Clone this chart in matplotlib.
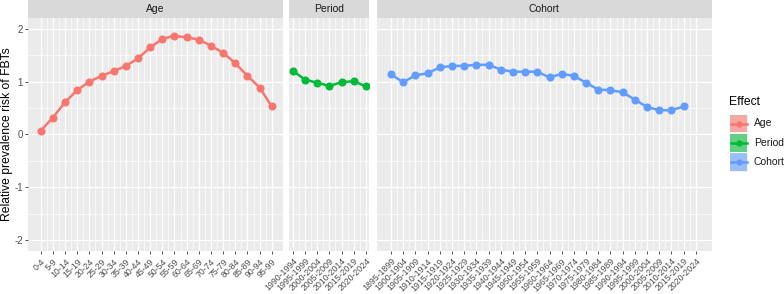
import numpy as np
import matplotlib
matplotlib.use("Agg")
import matplotlib.pyplot as plt
from matplotlib.patches import Rectangle
from matplotlib.lines import Line2D

plt.rcParams['font.family'] = ['Liberation Sans', 'DejaVu Sans']

# data
age_labels = ['0-4', '5-9', '10-14', '15-19', '20-24', '25-29', '30-34', '35-39', '40-44', '45-49',
              '50-54', '55-59', '60-64', '65-69', '70-74', '75-79', '80-84', '85-89', '90-94', '95-99']
age_vals = [0.07, 0.32, 0.61, 0.84, 1.00, 1.11, 1.20, 1.30, 1.44, 1.65,
            1.81, 1.87, 1.84, 1.80, 1.68, 1.55, 1.35, 1.11, 0.89, 0.53]

period_labels = ['1990-1994', '1995-1999', '2000-2004', '2005-2009', '2010-2014', '2015-2019', '2020-2024']
period_vals = [1.21, 1.04, 0.98, 0.92, 0.99, 1.01, 0.91]

cohort_labels = ['1895-1899', '1900-1904', '1905-1909', '1910-1914', '1915-1919', '1920-1924', '1925-1929',
                 '1930-1934', '1935-1939', '1940-1944', '1945-1949', '1950-1954', '1955-1959', '1960-1964',
                 '1965-1969', '1970-1974', '1975-1979', '1980-1984', '1985-1989', '1990-1994', '1995-1999',
                 '2000-2004', '2005-2009', '2010-2014', '2015-2019', '2020-2024']
cohort_vals = [1.14, 0.99, 1.12, 1.16, 1.27, 1.30, 1.30, 1.32, 1.32, 1.23, 1.19, 1.19, 1.19, 1.08,
               1.15, 1.11, 0.98, 0.85, 0.84, 0.80, 0.66, 0.52, 0.46, 0.46, 0.53, np.nan]

colors = {'Age': '#F8766D', 'Period': '#00BA38', 'Cohort': '#619CFF'}

W, H = 784, 294
fig = plt.figure(figsize=(W / 100, H / 100), dpi=100)

def px_axes(x0, x1, y0, y1):
    # pixel box (top-left origin) -> figure axes
    return fig.add_axes([x0 / W, 1 - y1 / H, (x1 - x0) / W, (y1 - y0) / H])

panels = [
    ('Age', age_labels, age_vals, 28.3, 282.7, (-1.02, 19.9)),
    ('Period', period_labels, period_vals, 289, 369, (-0.30, 6.25)),
    ('Cohort', cohort_labels, cohort_vals, 376.7, 711.7, (-1.17, 26.3)),
]

top, bottom = 18.4, 250.5
for i, (name, labels, vals, x0, x1, xl) in enumerate(panels):
    ax = px_axes(x0, x1, top, bottom)
    ax.set_facecolor('#EBEBEB')
    xs = np.arange(len(labels))
    ax.set_xlim(*xl)
    ax.set_ylim(-2.2, 2.2)
    ax.set_xticks(xs)
    ax.set_xticks(xs[:-1] + 0.5, minor=True)
    ax.set_yticks([-2, -1, 0, 1, 2])
    ax.set_yticks([-1.5, -0.5, 0.5, 1.5], minor=True)
    ax.grid(which='major', color='white', lw=0.9)
    ax.grid(which='minor', color='white', lw=0.45)
    ax.set_axisbelow(True)
    for s in ax.spines.values():
        s.set_visible(False)
    ax.set_xticklabels(labels, rotation=45, ha='right', va='top', rotation_mode='anchor',
                       fontsize=6.3, color='#4D4D4D')
    ax.tick_params(axis='x', which='major', length=2.5, width=0.6, color='#333333', pad=2)
    ax.tick_params(which='minor', length=0)
    if i == 0:
        ax.set_yticklabels(['-2', '-1', '0', '1', '2'], fontsize=7, color='#4D4D4D')
        ax.tick_params(axis='y', which='major', length=2.5, width=0.6, color='#333333', pad=1.5)
    else:
        ax.tick_params(axis='y', which='major', length=0, labelleft=False)
    ax.plot(xs, vals, color=colors[name], lw=1.8, marker='o', ms=4.8, zorder=3)

    # facet strip
    sax = px_axes(x0, x1, 0, top)
    sax.set_facecolor('#D9D9D9')
    sax.set_xticks([])
    sax.set_yticks([])
    for s in sax.spines.values():
        s.set_visible(False)
    sax.text(0.5, 0.5, name, ha='center', va='center', fontsize=7.5, color='#1A1A1A',
             transform=sax.transAxes)

fig.text(7 / W, 1 - 134.5 / H, 'Relative prevalence risk of FBTs', rotation=90,
         fontsize=8.7, ha='center', va='center')

# legend
fig.text(729 / W, 1 - 102 / H, 'Effect', fontsize=8.7, ha='left', va='center')
ky = [114, 133.3, 152.6]
for name, y0 in zip(['Age', 'Period', 'Cohort'], ky):
    kx0, kw, kh = 729.3, 19, 19
    fig.patches.append(Rectangle((kx0 / W, 1 - (y0 + kh) / H), kw / W, kh / H,
                                 transform=fig.transFigure, facecolor='#F2F2F2',
                                 edgecolor='white', lw=0.8))
    fig.patches.append(Rectangle(((kx0 + 0.8) / W, 1 - (y0 + kh - 0.8) / H), (kw - 1.6) / W, (kh - 1.6) / H,
                                 transform=fig.transFigure, facecolor=colors[name],
                                 alpha=0.6, edgecolor='none'))
    ym = 1 - (y0 + kh / 2) / H
    fig.lines.append(Line2D([(kx0 + 1.5) / W, (kx0 + kw - 1.5) / W], [ym, ym],
                            transform=fig.transFigure, color=colors[name], lw=1.8))
    fig.lines.append(Line2D([(kx0 + kw / 2) / W], [ym], transform=fig.transFigure,
                            color=colors[name], marker='o', ms=3.5))
    fig.text(754 / W, ym, name, fontsize=7.5, color='#1A1A1A', ha='left', va='center')

fig.savefig('out.png', dpi=100, facecolor='white')
